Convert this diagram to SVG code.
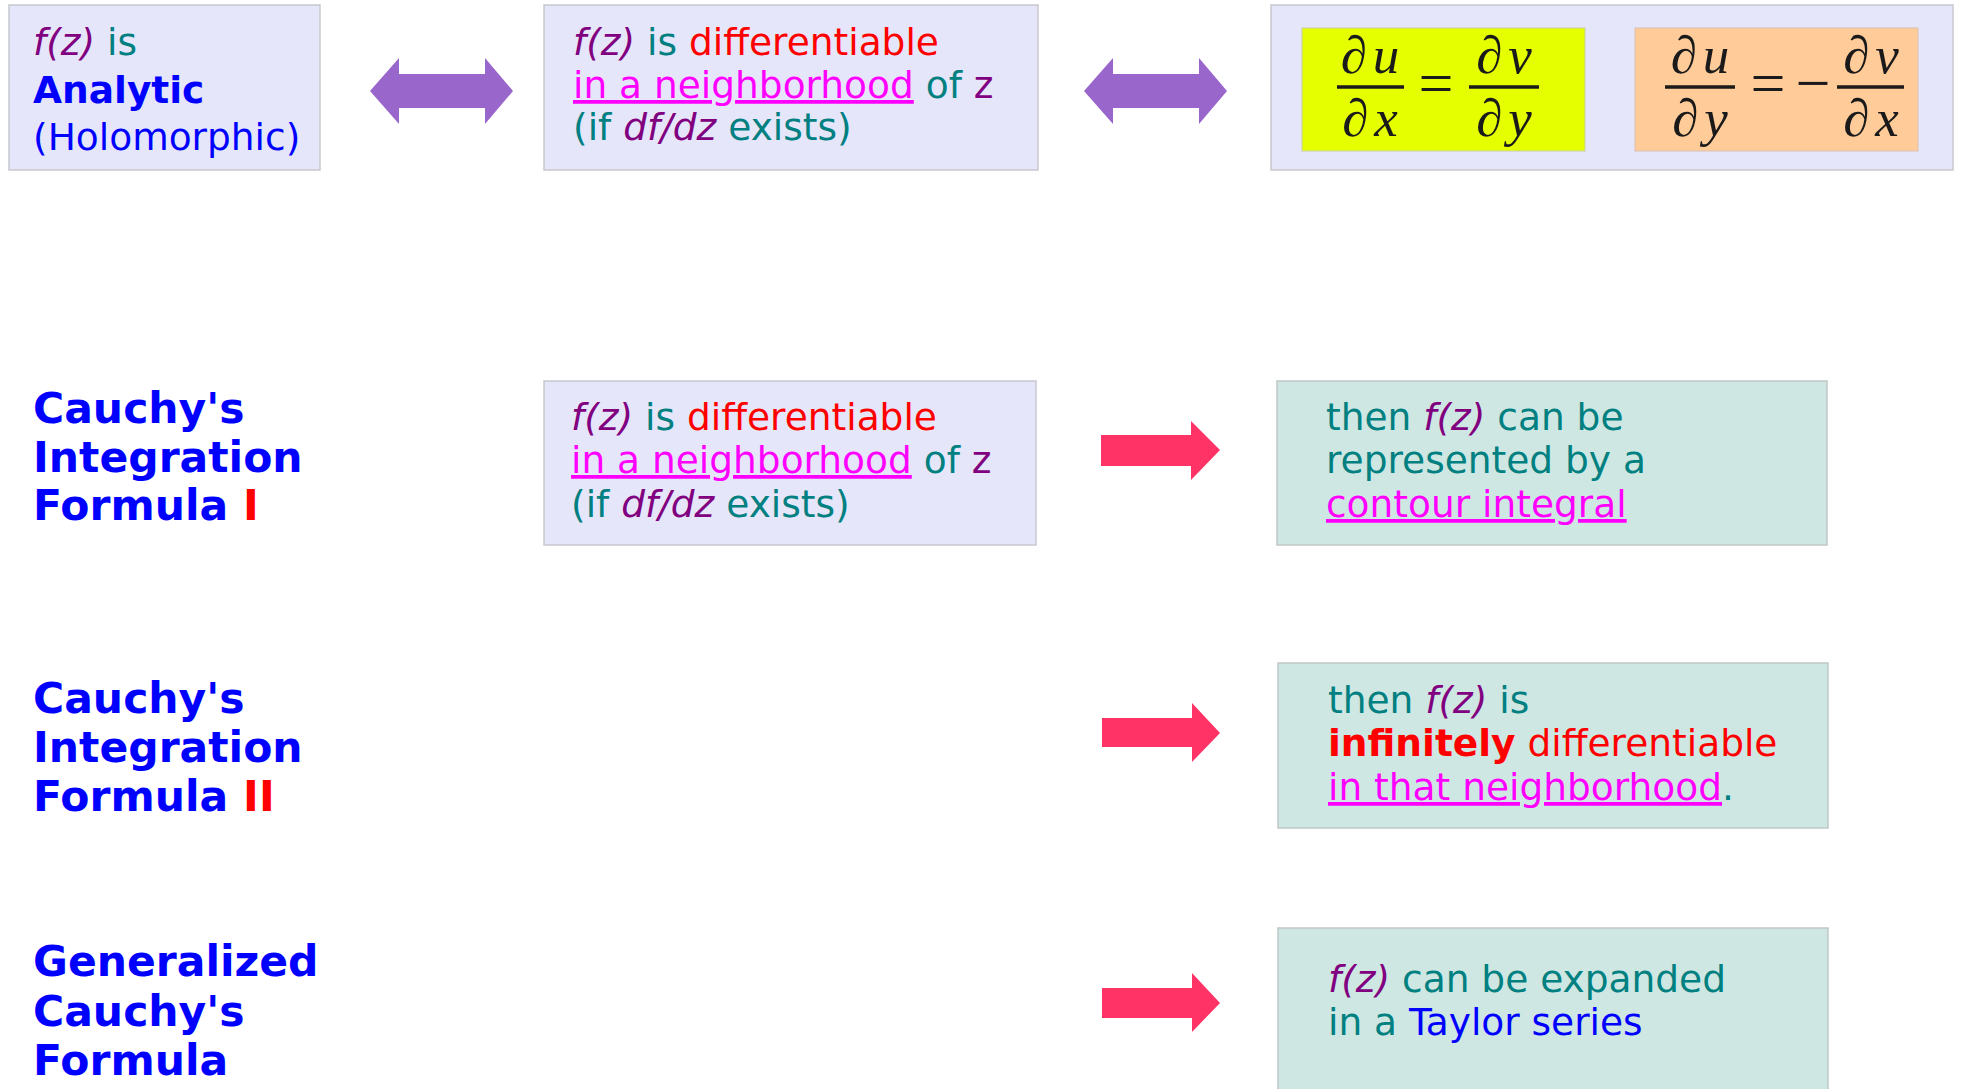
<svg xmlns="http://www.w3.org/2000/svg" width="1961" height="1089" viewBox="0 0 1961 1089">
<style>
text{font-family:"DejaVu Sans","Verdana",sans-serif;font-size:37.5px}
.lav{fill:#E6E6FA;stroke:#C8C8D0;stroke-width:1.5}
.grn{fill:#CFE7E3;stroke:#C0C8C6;stroke-width:1.5}
.p{fill:#800080}
.t{fill:#008080}
.r{fill:#FF0000}
.m{fill:#FF00FF;text-decoration:underline}
.b{fill:#0000FF}
.i{font-style:italic}
.bd{font-weight:bold}
.h{font-size:42.5px;font-weight:bold;fill:#0000FF}
.math{font-family:"Liberation Serif","Times New Roman",serif;font-style:italic;font-size:53px;fill:#1a1a1a;text-anchor:middle;letter-spacing:6px}
.op{font-family:"Liberation Serif","Times New Roman",serif;font-size:62px;fill:#1a1a1a;text-anchor:middle}
.fl{stroke:#1a1a1a;stroke-width:3.5}
.pa{fill:#9966CC}
.ra{fill:#FF3366}
</style>
<rect width="1961" height="1089" fill="#FFFFFF"/>

<g id="analytic">
<rect class="lav" x="9" y="5" width="311" height="165"/>
<text x="33" y="55"><tspan class="p i">f(z)</tspan><tspan class="t"> is</tspan></text>
<text x="33" y="103" class="b bd">Analytic</text>
<text x="33" y="150" class="b">(Holomorphic)</text>
</g>

<g id="differentiable-top">
<rect class="lav" x="544" y="5" width="494" height="165"/>
<text x="573" y="55"><tspan class="p i">f(z)</tspan><tspan class="t"> is </tspan><tspan class="r">differentiable</tspan></text>
<text x="573" y="98"><tspan class="m">in a neighborhood</tspan><tspan class="t"> of </tspan><tspan class="p">z</tspan></text>
<text x="573" y="140"><tspan class="t">(if </tspan><tspan class="p i">df/dz</tspan><tspan class="t"> exists)</tspan></text>
</g>

<g id="cauchy-riemann">
<rect class="lav" x="1271" y="5" width="682" height="165"/>
<rect x="1302" y="28" width="283" height="123" fill="#E6FF00" stroke="#C8D0A0" stroke-width="1"/>
<text class="math" x="1373" y="73">∂u</text>
<line class="fl" x1="1337" y1="87" x2="1404" y2="87"/>
<text class="math" x="1373" y="136">∂x</text>
<text class="op" x="1436" y="104">=</text>
<text class="math" x="1507" y="73">∂v</text>
<line class="fl" x1="1469" y1="87" x2="1539" y2="87"/>
<text class="math" x="1507" y="136">∂y</text>
<rect x="1635" y="28" width="283" height="123" fill="#FFCC99" stroke="#D8C0B0" stroke-width="1"/>
<text class="math" x="1703" y="73">∂u</text>
<line class="fl" x1="1665" y1="87" x2="1735" y2="87"/>
<text class="math" x="1703" y="136">∂y</text>
<text class="op" x="1768" y="104">=</text>
<text class="op" x="1813" y="104">−</text>
<text class="math" x="1874" y="73">∂v</text>
<line class="fl" x1="1837" y1="87" x2="1904" y2="87"/>
<text class="math" x="1874" y="136">∂x</text>
</g>

<g id="title-cauchy-1">
<text class="h" x="33" y="423">Cauchy's</text>
<text class="h" x="33" y="472">Integration</text>
<text class="h" x="33" y="520">Formula <tspan fill="#FF0000">I</tspan></text>
</g>

<g id="differentiable-row2">
<rect class="lav" x="544" y="381" width="492" height="164"/>
<text x="571" y="430"><tspan class="p i">f(z)</tspan><tspan class="t"> is </tspan><tspan class="r">differentiable</tspan></text>
<text x="571" y="473"><tspan class="m">in a neighborhood</tspan><tspan class="t"> of </tspan><tspan class="p">z</tspan></text>
<text x="571" y="517"><tspan class="t">(if </tspan><tspan class="p i">df/dz</tspan><tspan class="t"> exists)</tspan></text>
</g>

<g id="contour">
<rect class="grn" x="1277" y="381" width="550" height="164"/>
<text x="1326" y="430"><tspan class="t">then </tspan><tspan class="p i">f(z)</tspan><tspan class="t"> can be</tspan></text>
<text x="1326" y="473" class="t">represented by a</text>
<text x="1326" y="517" class="m">contour integral</text>
</g>

<g id="title-cauchy-2">
<text class="h" x="33" y="713">Cauchy's</text>
<text class="h" x="33" y="762">Integration</text>
<text class="h" x="33" y="811">Formula <tspan fill="#FF0000">II</tspan></text>
</g>

<g id="infinitely">
<rect class="grn" x="1278" y="663" width="550" height="165"/>
<text x="1328" y="713"><tspan class="t">then </tspan><tspan class="p i">f(z)</tspan><tspan class="t"> is</tspan></text>
<text x="1328" y="756"><tspan class="r bd">infinitely</tspan><tspan class="r"> differentiable</tspan></text>
<text x="1328" y="800"><tspan class="m">in that neighborhood</tspan><tspan class="t">.</tspan></text>
</g>

<g id="title-generalized">
<text class="h" x="33" y="976">Generalized</text>
<text class="h" x="33" y="1026">Cauchy's</text>
<text class="h" x="33" y="1075">Formula</text>
</g>

<g id="taylor">
<rect class="grn" x="1278" y="928" width="550" height="175"/>
<text x="1328" y="992"><tspan class="p i">f(z)</tspan><tspan class="t"> can be expanded</tspan></text>
<text x="1328" y="1035"><tspan class="t">in a </tspan><tspan class="b">Taylor series</tspan></text>
</g>

<g id="connectors">
<polygon class="pa" points="370,91 399,58 399,74 485,74 485,58 513,91 485,124 485,108 399,108 399,124"/>
<polygon class="pa" points="1084,91 1113,58 1113,74 1199,74 1199,58 1227,91 1199,124 1199,108 1113,108 1113,124"/>
<polygon class="ra" points="1101,435 1191,435 1191,421 1220,450 1191,480 1191,466 1101,466"/>
<polygon class="ra" points="1102,718 1192,718 1192,703 1220,733 1192,762 1192,747 1102,747"/>
<polygon class="ra" points="1102,988 1192,988 1192,973 1220,1003 1192,1032 1192,1018 1102,1018"/>
</g>
</svg>
